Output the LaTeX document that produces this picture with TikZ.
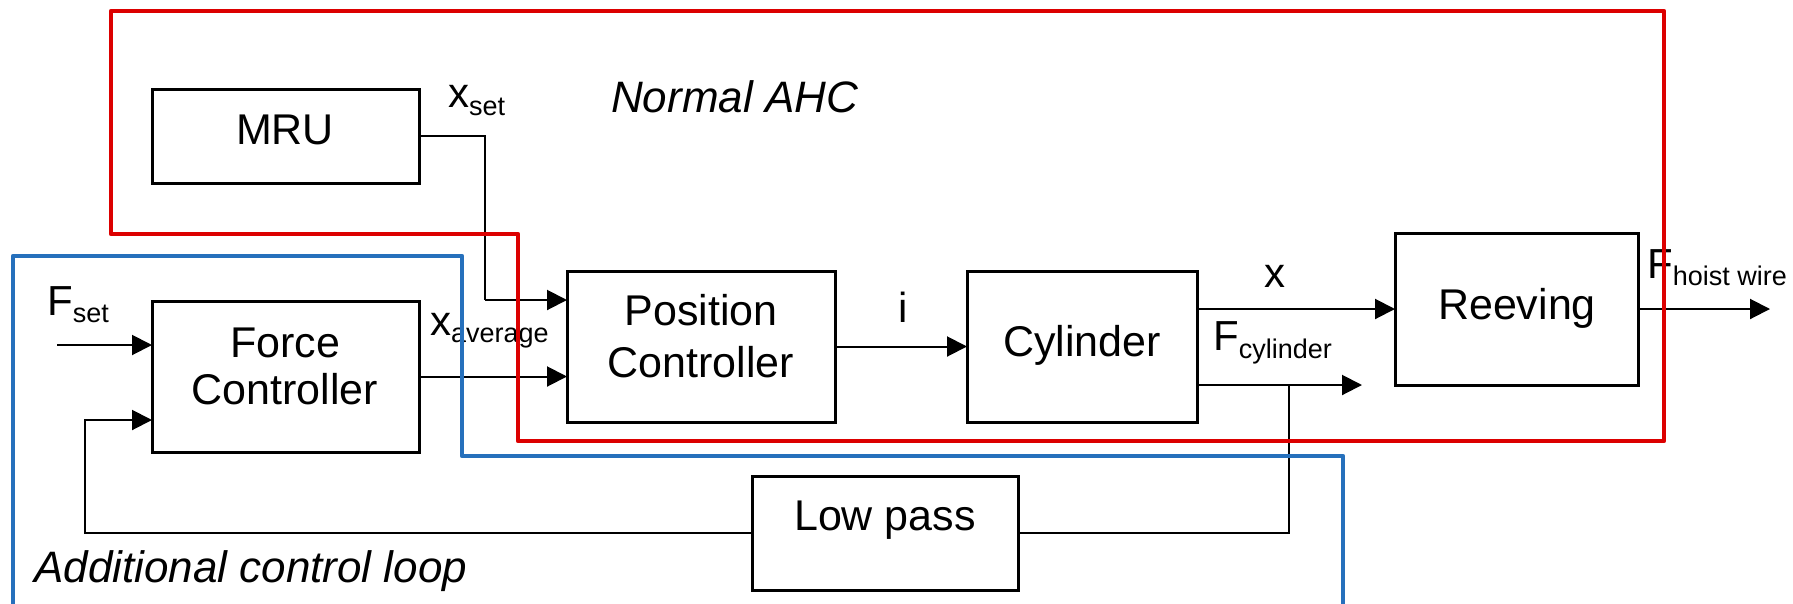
\documentclass[tikz,border=0pt]{standalone}
\usepackage{fontspec}
\setmainfont{Liberation Sans}
\usetikzlibrary{arrows.meta}
\definecolor{ahcred}{RGB}{220,0,0}
\definecolor{loopblue}{RGB}{38,112,188}
\newcommand{\blkfont}{\fontsize{43}{48}\selectfont}
\newcommand{\lblfont}{\fontsize{42}{46}\selectfont}
\newcommand{\subfont}{\fontsize{27}{30}\selectfont}
\newcommand{\itlfont}{\fontsize{44}{48}\selectfont\itshape}
\newcommand{\sig}[3]{{\lblfont #1}\raisebox{-#3pt}{\subfont #2}}
\begin{document}
\begin{tikzpicture}[x=1pt,y=-1pt,
  blk/.style={draw, line width=3pt, inner sep=0pt, outer sep=0pt, anchor=north west},
  txt/.style={inner sep=0pt, anchor=base, font=\blkfont},
  lbl/.style={inner sep=0pt, anchor=base west},
  conn/.style={line width=2pt, -{Triangle[length=20pt,width=20pt]}},
  wire/.style={line width=2pt},
  frame/.style={line width=4.5pt, line join=round}]
\useasboundingbox (0,0) rectangle (1793,603);
\clip (0,0) rectangle (1793,603);
\fill[white] (0,0) rectangle (1793,603);

% blocks
\node[blk, minimum width=267pt, minimum height=94pt] (mru) at (152,89) {};
\node[blk, minimum width=267pt, minimum height=151pt] (fc) at (152,301) {};
\node[blk, minimum width=268pt, minimum height=151pt] (pc) at (567,271) {};
\node[blk, minimum width=230pt, minimum height=151pt] (cyl) at (967,271) {};
\node[blk, minimum width=243pt, minimum height=152pt] (reev) at (1395,233) {};
\node[blk, minimum width=266pt, minimum height=114pt] (lp) at (752,476) {};

% block texts
\node[txt] (mrut) at (285,144) {MRU};
\node[txt] (fct1) at (285,357) {Force};
\node[txt] (fct2) at (285,404) {Controller};
\node[txt] (pct1) at (701,325) {Position};
\node[txt] (pct2) at (701,377) {Controller};
\node[txt] (cylt) at (1082,356) {Cylinder};
\node[txt] (reevt) at (1517,319) {Reeving};
\node[txt] (lpt) at (885,530) {Low pass};

% signal labels
\node[lbl] (xset) at (448,107) {\sig{x}{set}{8}};
\node[lbl] (fset) at (47,315) {\sig{F}{set}{7}};
\node[lbl] (xavg) at (430,335) {\sig{x}{average}{7}};
\node[lbl] (icur) at (898,322) {\lblfont i};
\node[lbl] (xpos) at (1264,287) {\lblfont x};
\node[lbl] (fcyl) at (1213,350) {\sig{F}{cylinder}{8}};
\node[lbl] (fhw) at (1647,278) {\sig{F}{hoist wire}{7}};
\node[lbl] (nahc) at (611,112) {\itlfont Normal AHC};
\node[lbl] (acl) at (34,582) {\itlfont Additional control loop};

% coordinates
\coordinate (mruturn) at (485,300);
\coordinate (fsetin) at (57,345);
\coordinate (fbcorner) at (85,420);
\coordinate (fcylout) at (1362,385);
\coordinate (tap) at (1289,385);
\coordinate (fhout) at (1770,309);

% connectors
\draw[wire] (mru.east) -| (mruturn);
\draw[conn] (mruturn) -- (mruturn -| pc.west);
\draw[conn] (fc.east) -- (fc.east -| pc.west);
\draw[conn] (fsetin) -- (fsetin -| fc.west);
\draw[conn] (pc.east) -- (pc.east -| cyl.west);
\draw[conn] (reev.west -| cyl.east) -- (reev.west);
\draw[conn] (reev.east) -- (fhout);
\draw[conn] (fcylout -| cyl.east) -- (fcylout);
\draw[wire] (tap) |- (lp.east);
\draw[conn] (lp.west) -| (fbcorner) -- (fbcorner -| fc.west);

% frames
\draw[frame, ahcred] (111,11) -- (1664,11) -- (1664,441) -- (518,441) -- (518,234) -- (111,234) -- cycle;
\draw[frame, loopblue] (13,620) -- (13,256) -- (462,256) -- (462,456) -- (1343,456) -- (1343,620);
\end{tikzpicture}
\end{document}
